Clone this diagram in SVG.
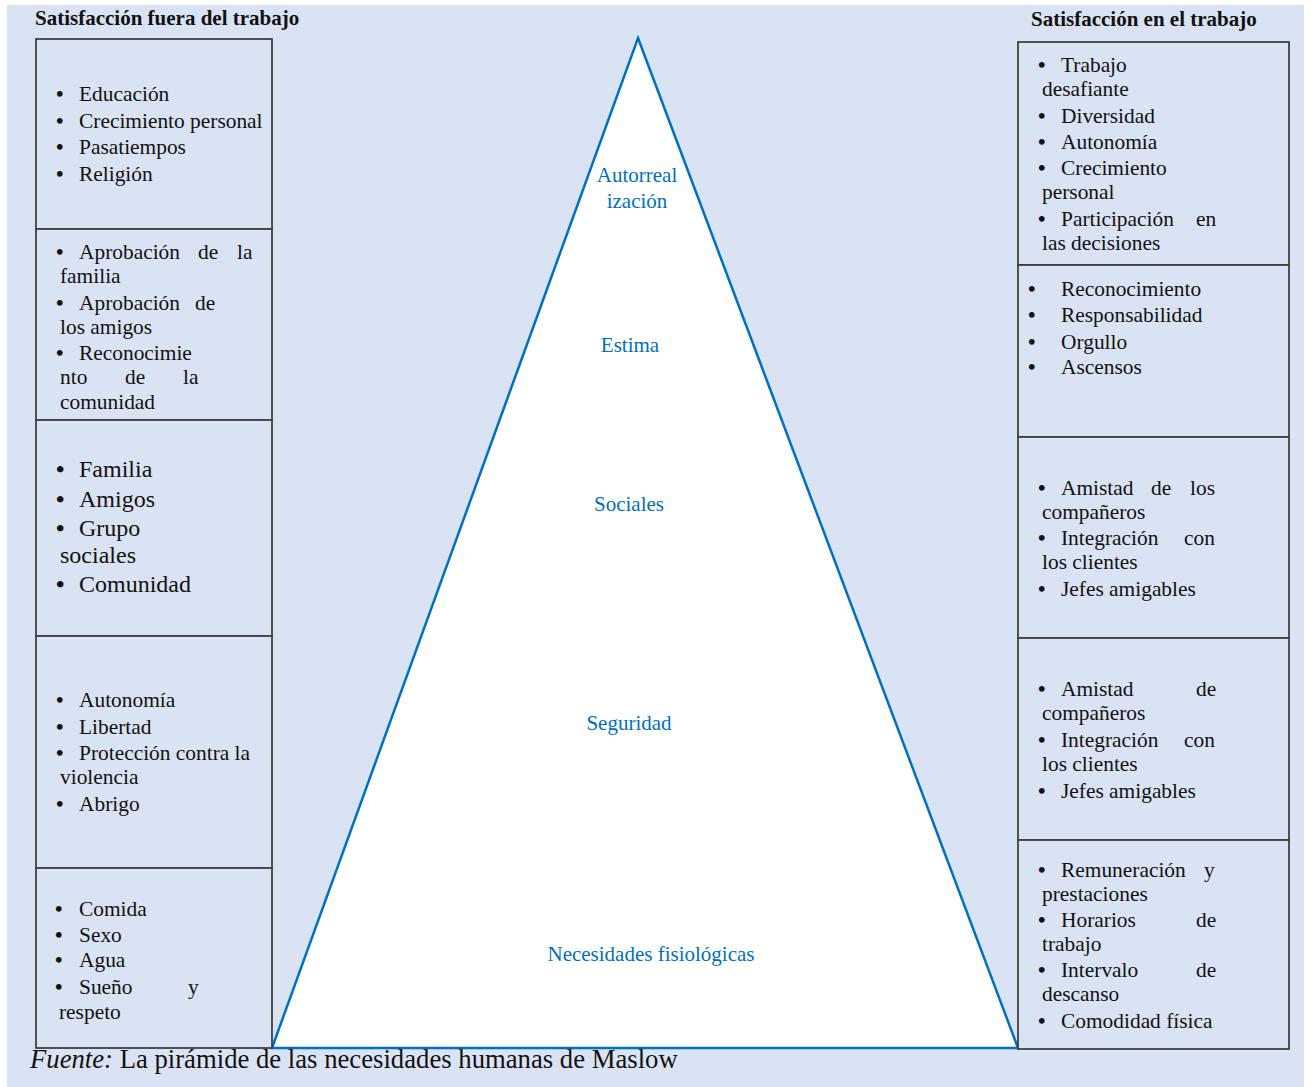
<svg xmlns="http://www.w3.org/2000/svg" width="1311" height="1087" viewBox="0 0 1311 1087">
<style>
.bg{fill:#dae3f3}
.box{fill:#dae3f3;stroke:#404040;stroke-width:1.8}
.t{font-family:"Liberation Serif","Times New Roman",serif;font-size:21.4px;fill:#111}
.tl{font-family:"Liberation Serif","Times New Roman",serif;font-size:24px;fill:#111}
.b{font-weight:bold}
.h{font-family:"Liberation Serif","Times New Roman",serif;font-size:21px;font-weight:bold;fill:#111}
.p{font-family:"Liberation Serif","Times New Roman",serif;font-size:21px;fill:#0070c0;text-anchor:middle}
.cap{font-family:"Liberation Serif","Times New Roman",serif;font-size:26.7px;fill:#111}
.pyr{fill:#ffffff;stroke:#0070c0;stroke-width:2.5;stroke-linejoin:miter}
</style>
<rect x="0" y="0" width="1311" height="1087" fill="#ffffff"/>
<rect class="bg" x="7" y="5" width="1297" height="1082"/>

<g id="pyramid">
<polygon class="pyr" points="638,38 1018,1048 272,1048"/>
<text class="p" x="637" y="182">Autorreal</text>
<text class="p" x="637" y="208">ización</text>
<text class="p" x="630" y="352">Estima</text>
<text class="p" x="629" y="511">Sociales</text>
<text class="p" x="629" y="730">Seguridad</text>
<text class="p" x="651" y="961">Necesidades fisiológicas</text>
</g>

<g id="header-left"><text class="h" x="35" y="25">Satisfacción fuera del trabajo</text></g>
<g id="header-right"><text class="h" x="1031" y="26">Satisfacción en el trabajo</text></g>

<g id="left-autorrealizacion">
<rect class="box" x="36" y="39" width="236" height="190"/>
<text class="t" y="101"><tspan class="b" x="56">•</tspan><tspan x="79">Educación</tspan></text>
<text class="t" y="128"><tspan class="b" x="56">•</tspan><tspan x="79">Crecimiento personal</tspan></text>
<text class="t" y="154"><tspan class="b" x="56">•</tspan><tspan x="79">Pasatiempos</tspan></text>
<text class="t" y="181"><tspan class="b" x="56">•</tspan><tspan x="79">Religión</tspan></text>
</g>

<g id="left-estima">
<rect class="box" x="36" y="229" width="236" height="191"/>
<text class="t" y="259"><tspan class="b" x="56">•</tspan><tspan x="79">Aprobación</tspan><tspan x="198">de</tspan><tspan x="237">la</tspan></text>
<text class="t" x="60" y="283">familia</text>
<text class="t" y="310"><tspan class="b" x="56">•</tspan><tspan x="79">Aprobación</tspan><tspan x="195">de</tspan></text>
<text class="t" x="60" y="334">los amigos</text>
<text class="t" y="360"><tspan class="b" x="56">•</tspan><tspan x="79">Reconocimie</tspan></text>
<text class="t" y="384"><tspan x="60">nto</tspan><tspan x="125">de</tspan><tspan x="183">la</tspan></text>
<text class="t" x="60" y="409">comunidad</text>
</g>

<g id="left-sociales">
<rect class="box" x="36" y="420" width="236" height="216"/>
<text class="tl" y="477"><tspan class="b" x="56">•</tspan><tspan x="79">Familia</tspan></text>
<text class="tl" y="507"><tspan class="b" x="56">•</tspan><tspan x="79">Amigos</tspan></text>
<text class="tl" y="536"><tspan class="b" x="56">•</tspan><tspan x="79">Grupo</tspan></text>
<text class="tl" x="60" y="563">sociales</text>
<text class="tl" y="592"><tspan class="b" x="56">•</tspan><tspan x="79">Comunidad</tspan></text>
</g>

<g id="left-seguridad">
<rect class="box" x="36" y="636" width="236" height="232"/>
<text class="t" y="707"><tspan class="b" x="56">•</tspan><tspan x="79">Autonomía</tspan></text>
<text class="t" y="734"><tspan class="b" x="56">•</tspan><tspan x="79">Libertad</tspan></text>
<text class="t" y="760"><tspan class="b" x="56">•</tspan><tspan x="79">Protección contra la</tspan></text>
<text class="t" x="60" y="784">violencia</text>
<text class="t" y="811"><tspan class="b" x="56">•</tspan><tspan x="79">Abrigo</tspan></text>
</g>

<g id="left-fisiologicas">
<rect class="box" x="36" y="868" width="236" height="180"/>
<text class="t" y="916"><tspan class="b" x="55">•</tspan><tspan x="79">Comida</tspan></text>
<text class="t" y="942"><tspan class="b" x="55">•</tspan><tspan x="79">Sexo</tspan></text>
<text class="t" y="967"><tspan class="b" x="55">•</tspan><tspan x="79">Agua</tspan></text>
<text class="t" y="994"><tspan class="b" x="55">•</tspan><tspan x="79">Sueño</tspan><tspan x="188">y</tspan></text>
<text class="t" x="59" y="1019">respeto</text>
</g>

<g id="right-autorrealizacion">
<rect class="box" x="1018" y="42" width="271" height="223"/>
<text class="t" y="72"><tspan class="b" x="1038">•</tspan><tspan x="1061">Trabajo</tspan></text>
<text class="t" x="1042" y="96">desafiante</text>
<text class="t" y="123"><tspan class="b" x="1038">•</tspan><tspan x="1061">Diversidad</tspan></text>
<text class="t" y="149"><tspan class="b" x="1038">•</tspan><tspan x="1061">Autonomía</tspan></text>
<text class="t" y="175"><tspan class="b" x="1038">•</tspan><tspan x="1061">Crecimiento</tspan></text>
<text class="t" x="1042" y="199">personal</text>
<text class="t" y="226"><tspan class="b" x="1038">•</tspan><tspan x="1061">Participación</tspan><tspan x="1196">en</tspan></text>
<text class="t" x="1042" y="250">las decisiones</text>
</g>

<g id="right-estima">
<rect class="box" x="1018" y="265" width="271" height="172"/>
<text class="t" y="296"><tspan class="b" x="1028">•</tspan><tspan x="1061">Reconocimiento</tspan></text>
<text class="t" y="322"><tspan class="b" x="1028">•</tspan><tspan x="1061">Responsabilidad</tspan></text>
<text class="t" y="349"><tspan class="b" x="1028">•</tspan><tspan x="1061">Orgullo</tspan></text>
<text class="t" y="374"><tspan class="b" x="1028">•</tspan><tspan x="1061">Ascensos</tspan></text>
</g>

<g id="right-sociales">
<rect class="box" x="1018" y="437" width="271" height="201"/>
<text class="t" y="495"><tspan class="b" x="1038">•</tspan><tspan x="1061">Amistad</tspan><tspan x="1151">de</tspan><tspan x="1190">los</tspan></text>
<text class="t" x="1042" y="519">compañeros</text>
<text class="t" y="545"><tspan class="b" x="1038">•</tspan><tspan x="1061">Integración</tspan><tspan x="1184">con</tspan></text>
<text class="t" x="1042" y="569">los clientes</text>
<text class="t" y="596"><tspan class="b" x="1038">•</tspan><tspan x="1061">Jefes amigables</tspan></text>
</g>

<g id="right-seguridad">
<rect class="box" x="1018" y="638" width="271" height="202"/>
<text class="t" y="696"><tspan class="b" x="1038">•</tspan><tspan x="1061">Amistad</tspan><tspan x="1196">de</tspan></text>
<text class="t" x="1042" y="720">compañeros</text>
<text class="t" y="747"><tspan class="b" x="1038">•</tspan><tspan x="1061">Integración</tspan><tspan x="1184">con</tspan></text>
<text class="t" x="1042" y="771">los clientes</text>
<text class="t" y="798"><tspan class="b" x="1038">•</tspan><tspan x="1061">Jefes amigables</tspan></text>
</g>

<g id="right-fisiologicas">
<rect class="box" x="1018" y="840" width="271" height="209"/>
<text class="t" y="877"><tspan class="b" x="1038">•</tspan><tspan x="1061">Remuneración</tspan><tspan x="1204">y</tspan></text>
<text class="t" x="1042" y="901">prestaciones</text>
<text class="t" y="927"><tspan class="b" x="1038">•</tspan><tspan x="1061">Horarios</tspan><tspan x="1196">de</tspan></text>
<text class="t" x="1042" y="951">trabajo</text>
<text class="t" y="977"><tspan class="b" x="1038">•</tspan><tspan x="1061">Intervalo</tspan><tspan x="1196">de</tspan></text>
<text class="t" x="1042" y="1001">descanso</text>
<text class="t" y="1028"><tspan class="b" x="1038">•</tspan><tspan x="1061">Comodidad física</tspan></text>
</g>

<g id="caption">
<text class="cap" x="30" y="1068"><tspan font-style="italic">Fuente:</tspan> La pirámide de las necesidades humanas de Maslow</text>
</g>
</svg>
